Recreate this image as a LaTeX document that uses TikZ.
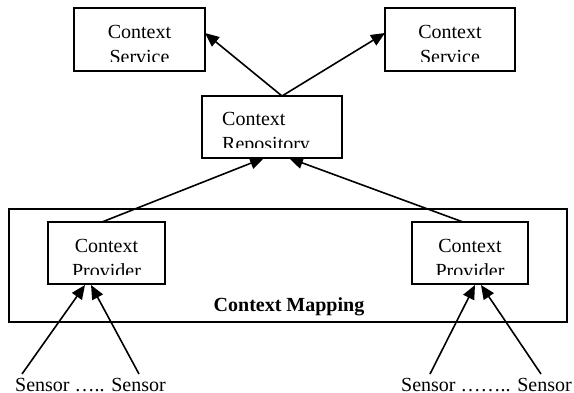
\documentclass[tikz,border=0pt]{standalone}
\usepackage{fontspec}
\setmainfont{Liberation Serif}
\usetikzlibrary{arrows.meta}
\begin{document}
\begin{tikzpicture}[x=1pt,y=-1pt,
  box/.style={draw, rectangle, line width=1.7pt, inner sep=0pt},
  lbl/.style={inner sep=0pt, anchor=base, font=\fontsize{20}{25}\selectfont},
  lblw/.style={lbl, anchor=base west},
  conn/.style={line width=1.6pt, -{Triangle[length=14pt,width=12pt]}},
  mask/.style={fill=white, draw=none}]
\useasboundingbox (0,0) rectangle (574,392);

% boxes
\node[box, minimum width=131pt, minimum height=63pt] (svcL) at (139.5,39.5) {};
\node[box, minimum width=130pt, minimum height=63pt] (svcR) at (450,39.5) {};
\node[box, minimum width=140pt, minimum height=62pt] (repo) at (272,127) {};
\node[box, minimum width=558pt, minimum height=113pt] (mapping) at (288,265.5) {};
\node[box, minimum width=117pt, minimum height=62pt] (provL) at (106.5,253) {};
\node[box, minimum width=116pt, minimum height=62pt] (provR) at (470,253) {};

% texts
\node[lbl] (tsl1) at (139.5,38) {Context};
\node[lbl] (tsl2) at (139.5,63) {Service};
\node[lbl] (tsr1) at (450,38) {Context};
\node[lbl] (tsr2) at (450,63) {Service};
\node[lblw] (tr1) at (222,125) {Context};
\node[lblw] (tr2) at (222,150) {Repository};
\node[lbl] (tpl1) at (106.5,252) {Context};
\node[lbl] (tpl2) at (106.5,277) {Provider};
\node[lbl] (tpr1) at (470,252) {Context};
\node[lbl] (tpr2) at (470,277) {Provider};
\node[lbl, font=\fontsize{20}{25}\selectfont\bfseries] (tmap) at (289,311.5) {Context Mapping};
\node[lblw] (sensL) at (15,391.5) {Sensor ….. Sensor};
\node[lblw] (sensR) at (401,391.5) {Sensor …….. Sensor};

% clipped bottoms of the second text lines
\fill[mask] (76,62) rectangle (203,69);
\fill[mask] (387,62) rectangle (513,69);
\fill[mask] (204,148) rectangle (340,156);
\fill[mask] (50,275) rectangle (163,282);
\fill[mask] (414,275) rectangle (526,282);

% connector end points
\coordinate (repoTop) at (282,96);
\coordinate (svcLin) at (205,33);
\coordinate (svcRin) at (385,33);
\coordinate (repoInL) at (264,158);
\coordinate (repoInR) at (289,158);
\coordinate (provLout) at (102,222);
\coordinate (provRout) at (463,222);
\coordinate (pLinA) at (85,285);
\coordinate (pLinB) at (91,285);
\coordinate (pRinA) at (475,285);
\coordinate (pRinB) at (481,285);
\coordinate (s1) at (22,374);
\coordinate (s2) at (139,374);
\coordinate (s3) at (430,374);
\coordinate (s4) at (541,374);

% connectors
\draw[conn] (repoTop) -- (svcLin);
\draw[conn] (repoTop) -- (svcRin);
\draw[conn] (provLout) -- (repoInL);
\draw[conn] (provRout) -- (repoInR);
\draw[conn] (s1) -- (pLinA);
\draw[conn] (s2) -- (pLinB);
\draw[conn] (s3) -- (pRinA);
\draw[conn] (s4) -- (pRinB);
\end{tikzpicture}
\end{document}
